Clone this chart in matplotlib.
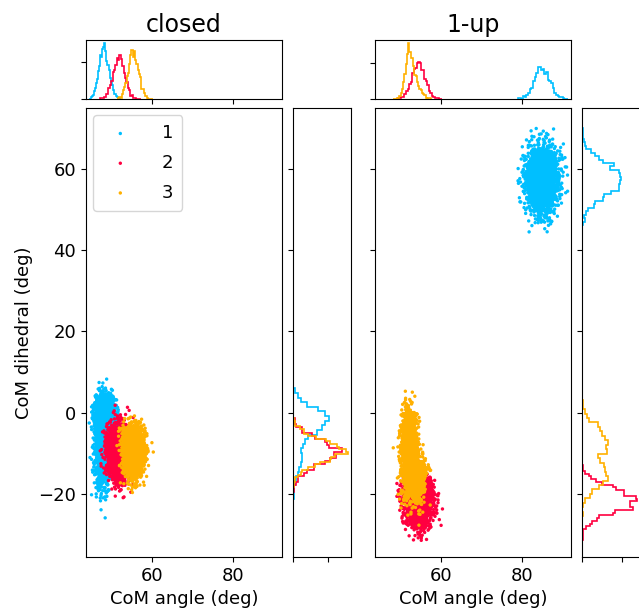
import numpy as np
import matplotlib.pyplot as plt

PANELS = ["closed", "1-up"]
LABELS = ["1", "2", "3"]
COLORS = ["#00bfff", "#ff0040", "#ffb000"]
N_POINTS = 2500

# clusters: (weight, angle mean, angle sd, dihedral mean, dihedral sd)
CLOSED_1 = [(0.7, 48.4, 1.2, -1.5, 2.8), (0.3, 47.8, 1.0, -10.0, 4.5)]
CLOSED_2 = [(1.0, 51.9, 1.45, -9.8, 3.2)]
CLOSED_3 = [(1.0, 55.4, 1.25, -9.5, 2.9)]
UP_1 = [(1.0, 84.8, 1.9, 57.5, 4.0)]
UP_2 = [(1.0, 54.4, 1.65, -21.5, 3.0)]
UP_3 = [(0.55, 52.0, 0.9, -7.0, 3.5), (0.45, 53.3, 1.4, -16.0, 3.0)]

CLUSTERS = {"closed": [CLOSED_1, CLOSED_2, CLOSED_3],
            "1-up": [UP_1, UP_2, UP_3]}

XLIM = (43.7, 92.0)
YLIM = (-35.5, 75.0)

rng = np.random.default_rng(7)


def make_points(parts):
    xs, ys = [], []
    for w, mx, sx, my, sy in parts:
        n = int(N_POINTS * w)
        xs.append(rng.normal(mx, sx, n))
        ys.append(rng.normal(my, sy, n))
    return np.concatenate(xs), np.concatenate(ys)


plt.rcParams['font.size'] = 13
fig = plt.figure(figsize=(6.39, 6.08), dpi=100)

# positions in figure fractions: main, top histogram, right histogram
lefts = [0.1346, 0.5869]
main_w = 0.307
main_b, main_h = 0.0839, 0.7385
top_b, top_h = 0.8372, 0.097
side_gap, side_w = 0.0165, 0.0908

for k, name in enumerate(PANELS):
    l = lefts[k]
    ax = fig.add_axes([l, main_b, main_w, main_h])
    ax_top = fig.add_axes([l, top_b, main_w, top_h], sharex=ax)
    ax_side = fig.add_axes([l + main_w + side_gap, main_b, side_w, main_h], sharey=ax)

    for data, lab, col in zip(CLUSTERS[name], LABELS, COLORS):
        x, y = make_points(data)
        ax.scatter(x, y, s=6, color=col, edgecolors='none', label=lab)
        ax_top.hist(x, bins=30, density=True, histtype='step', color=col, lw=1.2)
        ax_side.hist(y, bins=30, density=True, histtype='step', color=col, lw=1.2,
                     orientation='horizontal')

    ax.set_xlim(XLIM)
    ax.set_ylim(YLIM)
    ax.set_xticks([60, 80])
    ax.set_yticks([-20, 0, 20, 40, 60])
    ax.set_xlabel("CoM angle (deg)")
    if k == 0:
        ax.set_ylabel("CoM dihedral (deg)")
        ax.legend(loc='upper left', borderpad=0.5, labelspacing=0.65,
                  handletextpad=1.3, borderaxespad=0.4)
    else:
        ax.tick_params(labelleft=False)

    ax_top.set_yticks([0, 0.25])
    ax_top.tick_params(labelbottom=False, labelleft=False)
    ax_top.set_title(name, fontsize=17)

    ax_side.set_xticks([0, 0.1])
    ax_side.tick_params(labelbottom=False, labelleft=False)

fig.savefig("out.png", dpi=100)
